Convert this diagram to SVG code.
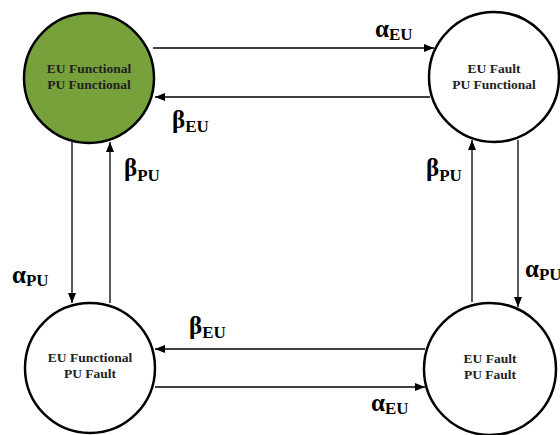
<svg xmlns="http://www.w3.org/2000/svg" width="560" height="435" viewBox="0 0 560 435">
  <style>
    .state { stroke: #000; stroke-width: 2.5; fill: #fff; }
    .state.on { fill: #77a13b; }
    .name { font-family: "Liberation Serif", "Times New Roman", serif; font-weight: bold; font-size: 13.5px; text-anchor: middle; fill: #222; }
    .edge { stroke: #000; stroke-width: 1.3; fill: none; marker-end: url(#head); }
    .rate { font-family: "Liberation Serif", "Times New Roman", serif; font-weight: bold; font-size: 25px; fill: #000; }
    .rate tspan.sub { font-size: 17px; }
  </style>
  <defs>
    <marker id="head" viewBox="0 0 10 8" refX="10" refY="4" markerWidth="10" markerHeight="8" markerUnits="userSpaceOnUse" orient="auto">
      <path d="M0,0 L10,4 L0,8 Z" fill="#000"/>
    </marker>
  </defs>

  <rect width="560" height="435" fill="#fff"/>

  <g id="connectors">
    <!-- top pair -->
    <line class="edge" x1="153" y1="48" x2="434" y2="48"/>
    <line class="edge" x1="430" y1="97" x2="155" y2="97"/>
    <!-- left pair -->
    <line class="edge" x1="72" y1="142" x2="72" y2="303"/>
    <line class="edge" x1="110" y1="303" x2="110" y2="142"/>
    <!-- right pair -->
    <line class="edge" x1="472" y1="302" x2="472" y2="140"/>
    <line class="edge" x1="518" y1="140" x2="518" y2="307"/>
    <!-- bottom pair -->
    <line class="edge" x1="425" y1="349" x2="155" y2="349"/>
    <line class="edge" x1="155" y1="387" x2="425" y2="387"/>

    <text class="rate" x="375" y="37">α<tspan class="sub" dy="3">EU</tspan></text>
    <text class="rate" x="172" y="128">β<tspan class="sub" dy="4">EU</tspan></text>
    <text class="rate" x="124" y="176">β<tspan class="sub" dy="5">PU</tspan></text>
    <text class="rate" x="12" y="283">α<tspan class="sub" dy="3">PU</tspan></text>
    <text class="rate" x="426" y="176">β<tspan class="sub" dy="5">PU</tspan></text>
    <text class="rate" x="525" y="277">α<tspan class="sub" dy="3">PU</tspan></text>
    <text class="rate" x="189" y="334">β<tspan class="sub" dy="4">EU</tspan></text>
    <text class="rate" x="371" y="411">α<tspan class="sub" dy="3">EU</tspan></text>
  </g>

  <g id="eu-func-pu-func">
    <circle class="state on" cx="89" cy="78" r="65"/>
    <text class="name" x="89" y="73">EU Functional</text>
    <text class="name" x="89" y="89">PU Functional</text>
  </g>

  <g id="eu-fault-pu-func">
    <circle class="state" cx="494" cy="77" r="65"/>
    <text class="name" x="494" y="73">EU Fault</text>
    <text class="name" x="494" y="89">PU Functional</text>
  </g>

  <g id="eu-func-pu-fault">
    <circle class="state" cx="90" cy="368" r="65"/>
    <text class="name" x="90" y="362">EU Functional</text>
    <text class="name" x="90" y="378">PU Fault</text>
  </g>

  <g id="eu-fault-pu-fault">
    <circle class="state" cx="490" cy="369" r="66"/>
    <text class="name" x="490" y="363">EU Fault</text>
    <text class="name" x="490" y="379">PU Fault</text>
  </g>
</svg>
